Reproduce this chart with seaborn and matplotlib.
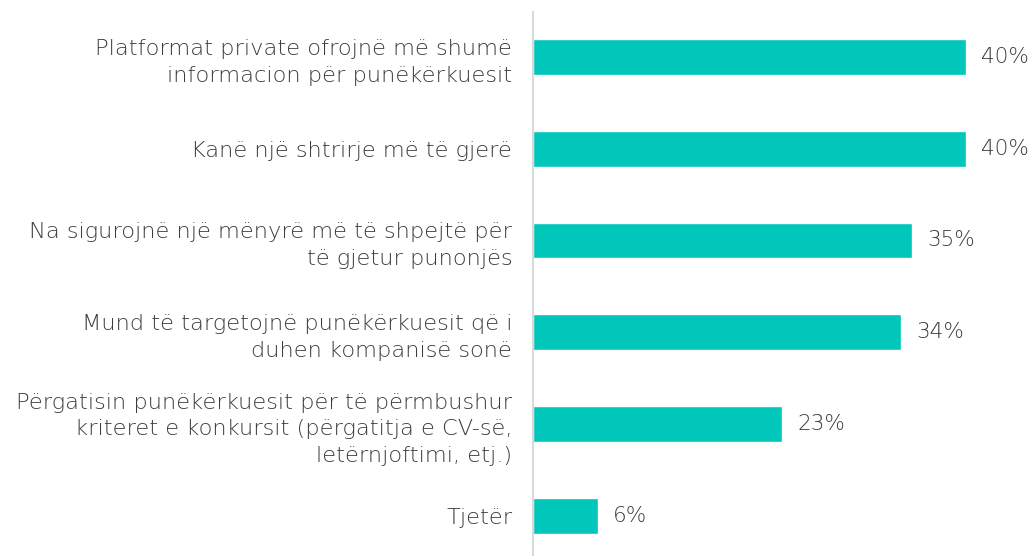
import matplotlib
matplotlib.use("Agg")
import matplotlib.pyplot as plt
import seaborn as sns
import pandas as pd

categories = [
    "Platformat private ofrojnë më shumë\ninformacion për punëkërkuesit",
    "Kanë një shtrirje më të gjerë",
    "Na sigurojnë një mënyrë më të shpejtë për\ntë gjetur punonjës",
    "Mund të targetojnë punëkërkuesit që i\nduhen kompanisë sonë",
    "Përgatisin punëkërkuesit për të përmbushur\nkriteret e konkursit (përgatitja e CV-së,\nletërnjoftimi, etj.)",
    "Tjetër",
]
values = [40, 40, 35, 34, 23, 6]
value_labels = ["40%", "40%", "35%", "34%", "23%", "6%"]

df = pd.DataFrame({"cat": categories, "val": values})

sns.set_theme(style="white")
plt.rcParams["font.family"] = ["DejaVu Sans"]

fig = plt.figure(figsize=(10.31, 5.56), dpi=100)
ax = fig.add_axes([533/1031, 0, 1 - 533/1031, 1 - 12/556])

sns.barplot(data=df, x="val", y="cat", color="#00C7BA", width=0.39, ax=ax, saturation=1)

ax.set_xlim(0, 46)
ax.set_ylim(5.44, -0.49)
ax.set_xlabel("")
ax.set_ylabel("")
ax.set_xticks([])
for s in ["top", "right", "bottom"]:
    ax.spines[s].set_visible(False)
ax.spines["left"].set_color("#D9D9D9")
ax.spines["left"].set_linewidth(1.5)
ax.tick_params(axis="y", length=0, pad=15, labelsize=16.2, labelcolor="#3c3c3c")
for lbl in ax.get_yticklabels():
    lbl.set_horizontalalignment("right")
    lbl.set_linespacing(1.42)
    lbl.set_fontweight("light")

for i, (v, t) in enumerate(zip(values, value_labels)):
    ax.annotate(t, xy=(v, i), xytext=(11, 0), textcoords="offset points",
                va="center", ha="left", fontsize=15.5, color="#3c3c3c",
                fontweight="light")

fig.savefig("out.png", dpi=100)
